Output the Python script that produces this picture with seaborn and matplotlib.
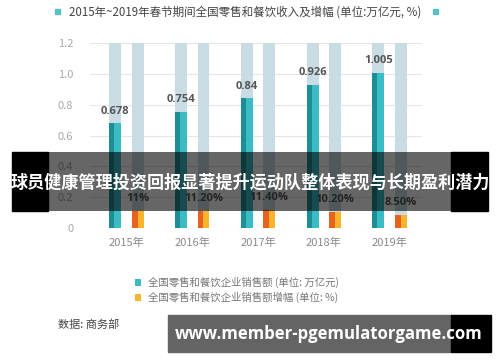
import numpy as np
import pandas as pd
import seaborn as sns
import matplotlib.pyplot as plt
from matplotlib.patches import Rectangle

# data
years = ["2015年", "2016年", "2017年", "2018年", "2019年"]
sales = [0.678, 0.754, 0.84, 0.926, 1.005]          # 万亿元
growth = [11, 11.2, 11.4, 10.2, 8.5]                # %
sales_labels = ["0.678", "0.754", "0.84", "0.926", "1.005"]
growth_labels = ["11%", "11.20%", "11.40%", "10.20%", "8.50%"]
series = ["全国零售和餐饮企业销售额 (单位: 万亿元)", "全国零售和餐饮企业销售额增幅 (单位: %)"]
bg_level = 1.2
yticks = [0, 0.2, 0.4, 0.6, 0.8, 1.0, 1.2]
ytick_labels = ["0", "0.2", "0.4", "0.6", "0.8", "1.0", "1.2"]

title = "2015年~2019年春节期间全国零售和餐饮收入及增幅 (单位:万亿元, %)"
banner = "球员健康管理投资回报显著提升运动队整体表现与长期盈利潜力"
source = "数据: 商务部"
site = "www.member-pgemulatorgame.com"

df = pd.DataFrame({
    "year": years * 2,
    "value": sales + [g / 100 for g in growth],
    "series": [series[0]] * 5 + [series[1]] * 5,
})
bg = pd.DataFrame({"year": years * 2, "value": [bg_level] * 10,
                   "series": df["series"]})

sns.set_theme(style="white")
plt.rcParams["font.family"] = ["Noto Sans CJK SC", "DejaVu Sans"]

W, H = 500, 362
fig = plt.figure(figsize=(5, 3.62), dpi=100)
ax = fig.add_axes([90 / W, 1 - 228 / H, 332 / W, 185 / H])


def fx(px):
    return px / W


def fy(py):
    return 1 - py / H


light = ["#3bbcc5", "#f7b42c"]
dark = ["#1e8e96", "#e8621e"]

sns.barplot(data=bg, x="year", y="value", hue="series", width=0.68, gap=0.47,
            palette=["#c9dce3", "#c9dce3"], saturation=1, linewidth=0,
            legend=False, ax=ax, zorder=2)
n_bg = len(ax.patches)
sns.barplot(data=df, x="year", y="value", hue="series", width=0.68, gap=0.47,
            palette=light, saturation=1, linewidth=0, ax=ax, zorder=3)

# darker left half of each bar
main = [p for p in ax.patches[n_bg:] if p.get_height() > 0]
for i, p in enumerate(main):
    c = dark[0] if i < 5 else dark[1]
    w = p.get_width() * (0.42 if i < 5 else 0.5)
    ax.bar(p.get_x(), p.get_height(), width=w, align="edge", color=c,
           linewidth=0, zorder=4)

for i, p in enumerate(main):
    cx = p.get_x() + p.get_width() / 2
    lab = sales_labels[i] if i < 5 else growth_labels[i - 5]
    ax.annotate(lab, (cx, p.get_height()), xytext=(0, 5), textcoords="offset points",
                ha="center", va="bottom", fontsize=8, color="#555555",
                fontweight="bold", family=["Open Sans", "DejaVu Sans"], zorder=5)

ax.set_xlim(-0.555, 4.494)
ax.set_ylim(0, 1.2)
ax.set_yticks(yticks, ytick_labels)
ax.tick_params(axis="y", length=0, pad=12, labelsize=8, labelcolor="#a8a8a8")
ax.tick_params(axis="x", length=0, pad=7, labelsize=8, labelcolor="#8a8a8a")
ax.yaxis.grid(True, color="#e6e6e6", linewidth=0.8, zorder=0)
ax.set_axisbelow(True)
for s in ax.spines.values():
    s.set_visible(False)
ax.set_xlabel("")
ax.set_ylabel("")

sns.move_legend(ax, "upper left", bbox_to_anchor=(fx(130), fy(272)),
                bbox_transform=fig.transFigure, frameon=False, title=None,
                fontsize=7.5, handlelength=0.6, handleheight=0.6,
                handletextpad=0.6, labelspacing=0.35, borderpad=0)
for t in ax.get_legend().get_texts():
    t.set_color("#777777")

# title line with square markers
fig.text(fx(69), fy(12), title, fontsize=8.3, color="#444444", va="center")
fig.add_artist(Rectangle((fx(55), fy(14)), fx(5), 5 / H, color="#5bbfc4"))
fig.add_artist(Rectangle((fx(433), fy(14)), fx(5), 5 / H, color="#5bbfc4"))

fig.text(fx(58), fy(325), source, fontsize=8, color="#444444", va="center")

# overlay banner
fig.add_artist(Rectangle((fx(12), fy(211)), fx(36), 59 / H, color="black", zorder=10))
fig.add_artist(Rectangle((fx(451), fy(211)), fx(37), 59 / H, color="black", zorder=10))
fig.add_artist(Rectangle((fx(48), fy(211)), fx(403), 59 / H, color="black",
                         alpha=0.6, linewidth=0, zorder=10))
fig.text(fx(250), fy(183), banner, fontsize=12.3, color="white", fontweight="bold",
         ha="center", va="center", zorder=11)

# bottom site banner
fig.add_artist(Rectangle((fx(168), fy(352)), fx(283), 37 / H, color="#646464", zorder=10))
fig.add_artist(Rectangle((fx(451), fy(352)), fx(40), 37 / H, color="black", zorder=10))
fig.text(fx(329), fy(334), site, fontsize=12.1, color="white", fontweight="bold",
         ha="center", va="center", family=["Open Sans", "DejaVu Sans"], zorder=11)

fig.savefig("out.png", dpi=100)
